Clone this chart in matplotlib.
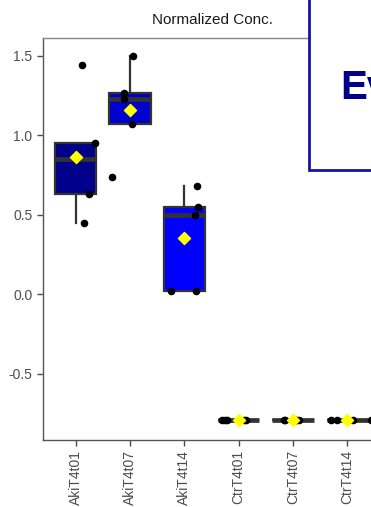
import matplotlib
matplotlib.use("Agg")
import matplotlib.pyplot as plt
from matplotlib.patches import Rectangle

plt.rcParams["font.family"] = ["Liberation Sans", "DejaVu Sans"]

# groups and values
groups = ["AkiT4t01", "AkiT4t07", "AkiT4t14", "CtrT4t01", "CtrT4t07", "CtrT4t14"]
fills = ["#00008B", "#0000CD", "#0000FF", "#228B22", "#32CD32", "#90EE90"]

aki01 = [1.44, 0.95, 0.85, 0.63, 0.45]
aki07 = [0.74, 1.50, 1.27, 1.23, 1.07]
aki14 = [0.68, 0.55, 0.50, 0.02, 0.02]
ctr01 = [-0.79, -0.79, -0.79, -0.79, -0.79]
ctr07 = [-0.79, -0.79, -0.79, -0.79, -0.79]
ctr14 = [-0.79, -0.79, -0.79, -0.79, -0.79]
values = [aki01, aki07, aki14, ctr01, ctr07, ctr14]

# jitter offsets of the dots (as drawn in the reference)
jitter = [
    [0.11, 0.35, 0.0, 0.24, 0.15],
    [-0.33, 0.06, -0.11, -0.11, 0.04],
    [0.24, 0.26, 0.20, -0.24, 0.22],
    [-0.30, -0.22, 0.10, 0.14, -0.26],
    [-0.17, 0.06, 0.11, 0.05, -0.15],
    [-0.31, 0.43, 0.0, -0.2, 0.1],
]

yticks = [1.5, 1.0, 0.5, 0.0, -0.5]

W, H = 371, 507
fig = plt.figure(figsize=(W / 100, H / 100), dpi=100)
ax = fig.add_axes([43 / W, 1 - 440 / H, 337 / W, 402 / H])

pos = list(range(1, len(groups) + 1))
bp = ax.boxplot(values, positions=pos, widths=0.76, patch_artist=True,
                showfliers=False, whis=1.5,
                boxprops=dict(edgecolor="#333333", linewidth=1.6),
                medianprops=dict(color="#333333", linewidth=3.4),
                whiskerprops=dict(color="#333333", linewidth=1.6),
                capprops=dict(linewidth=0))
for patch, c in zip(bp["boxes"], fills):
    patch.set_facecolor(c)

for i, vals in enumerate(values):
    xs = [pos[i] + j for j in jitter[i]]
    ax.scatter(xs, vals, s=20, color="black", zorder=4)
    ax.scatter([pos[i]], [sum(vals) / len(vals)], marker="D", s=38,
               color="yellow", zorder=5)

ax.set_xlim(0.4, 6.6)
ax.set_ylim(-0.917, 1.613)
ax.set_yticks(yticks)
ax.set_yticklabels(["1.5", "1.0", "0.5", "0.0", "-0.5"])
ax.set_xticks(pos)
ax.set_xticklabels(groups, rotation=90)
ax.tick_params(colors="#4D4D4D", labelsize=10, length=4, width=1)
ax.tick_params(axis="x", pad=3)
for s in ax.spines.values():
    s.set_color("#555555")
    s.set_linewidth(1.0)
ax.spines["top"].set_color("#888888")

fig.text(212 / W, 1 - 20 / H, "Normalized Conc.", ha="center", va="center",
         fontsize=11, color="#1a1a1a")

# overlay box from the right, cut by the edge of the picture
fig.patches.append(Rectangle((309 / W, 1 - 170 / H), 0.5, 0.6,
                             transform=fig.transFigure, facecolor="white",
                             edgecolor="#1414A0", linewidth=2, zorder=10))
fig.text(340 / W, 1 - 99 / H, "Ev", ha="left", va="baseline", fontsize=29,
         fontweight="bold", color="#00008B", fontstretch="condensed", zorder=11)

fig.savefig("out.png", dpi=100)
